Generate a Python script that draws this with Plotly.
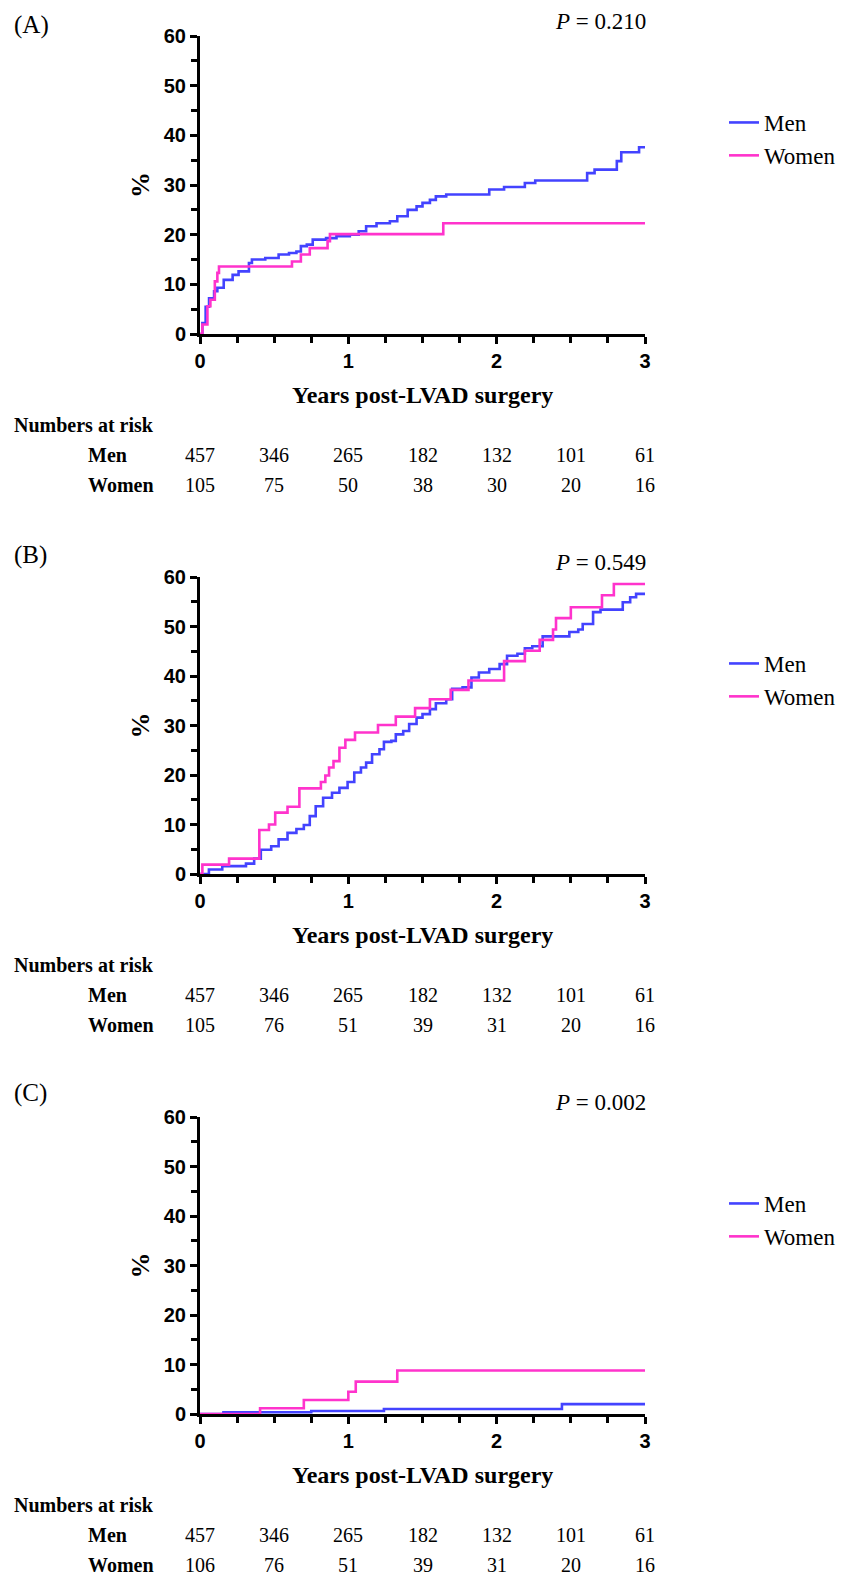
import plotly.graph_objects as go

W, H = 843, 1577

# ---------------- data ----------------
# Panel A
a_men_t = [0, 0.016, 0.038, 0.061, 0.095, 0.117, 0.16, 0.22, 0.26, 0.33, 0.35, 0.44, 0.53, 0.60, 0.65,
           0.68, 0.72, 0.76, 0.85, 0.92, 1.01, 1.07, 1.12, 1.19, 1.28, 1.33, 1.40, 1.46, 1.50, 1.55,
           1.59, 1.66, 1.95, 2.05, 2.19, 2.26, 2.61, 2.66, 2.81, 2.84, 2.96, 3.0]
a_men_v = [0, 2.2, 5.5, 7.2, 8.6, 9.3, 10.9, 11.9, 12.6, 14.3, 15.0, 15.3, 16.0, 16.3, 16.6,
           17.7, 18.0, 19.0, 19.3, 19.7, 20.0, 20.7, 21.7, 22.3, 22.7, 23.7, 25.0, 25.7, 26.4, 27.0,
           27.7, 28.1, 29.1, 29.6, 30.4, 30.9, 32.4, 33.1, 34.8, 36.6, 37.6, 37.6]
a_women_t = [0, 0.016, 0.05, 0.07, 0.10, 0.117, 0.128, 0.62, 0.68, 0.74, 0.86, 0.876, 1.64, 3.0]
a_women_v = [0, 1.9, 5.6, 6.9, 10.6, 12.3, 13.6, 14.6, 16.0, 17.3, 18.7, 20.1, 22.3, 22.3]

# Panel B
b_men_t = [0, 0.06, 0.15, 0.31, 0.365, 0.41, 0.48, 0.53, 0.59, 0.65, 0.70, 0.74, 0.78, 0.83, 0.89,
           0.94, 0.995, 1.04, 1.085, 1.12, 1.16, 1.21, 1.24, 1.29, 1.32, 1.37, 1.41, 1.46, 1.50,
           1.55, 1.59, 1.66, 1.70, 1.77, 1.83, 1.88, 1.95, 2.02, 2.07, 2.14, 2.19, 2.24, 2.31,
           2.49, 2.55, 2.58, 2.65, 2.70, 2.85, 2.90, 2.94, 3.0]
b_men_v = [0, 0.9, 1.6, 2.1, 3.1, 4.9, 5.6, 7.0, 8.3, 9.1, 9.9, 11.7, 13.7, 15.4, 16.4,
           17.4, 18.6, 20.5, 21.5, 22.5, 24.2, 25.2, 26.7, 26.9, 28.2, 28.9, 30.3, 31.6, 32.3,
           33.3, 34.5, 35.3, 37.4, 37.7, 39.7, 40.7, 41.4, 42.4, 44.1, 44.5, 45.6, 46.0, 48.0,
           48.9, 49.4, 50.5, 52.9, 53.4, 54.9, 55.9, 56.6, 56.8]
b_women_t = [0, 0.016, 0.196, 0.40, 0.465, 0.507, 0.59, 0.67, 0.815, 0.845, 0.87, 0.90, 0.94, 0.98,
             1.045, 1.20, 1.32, 1.45, 1.55, 1.69, 1.81, 2.05, 2.19, 2.29, 2.38, 2.40, 2.50, 2.71,
             2.79, 3.0]
b_women_v = [0, 1.9, 3.1, 8.9, 10.0, 12.4, 13.6, 17.3, 18.6, 19.9, 21.5, 22.8, 25.5, 27.1,
             28.6, 30.1, 31.8, 33.5, 35.3, 37.2, 39.1, 43.0, 45.1, 47.3, 49.4, 51.7, 53.9, 56.3,
             58.6, 58.6]

# Panel C
c_men_t = [0, 0.158, 0.75, 1.24, 2.44, 3.0]
c_men_v = [0, 0.34, 0.6, 1.0, 2.0, 2.0]
c_women_t = [0, 0.405, 0.70, 1.00, 1.05, 1.33, 3.0]
c_women_v = [0, 1.15, 2.84, 4.5, 6.55, 8.78, 8.78]

risk_times = [0, 0.5, 1, 1.5, 2, 2.5, 3]
a_risk_men = [457, 346, 265, 182, 132, 101, 61]
a_risk_women = [105, 75, 50, 38, 30, 20, 16]
b_risk_men = [457, 346, 265, 182, 132, 101, 61]
b_risk_women = [105, 76, 51, 39, 31, 20, 16]
c_risk_men = [457, 346, 265, 182, 132, 101, 61]
c_risk_women = [106, 76, 51, 39, 31, 20, 16]

panel_labels = ["(A)", "(B)", "(C)"]
p_values = ["0.210", "0.549", "0.002"]
series_names = ["Men", "Women"]
x_ticks = [0, 1, 2, 3]
y_ticks = [0, 10, 20, 30, 40, 50, 60]

# ---------------- styling ----------------
BLUE = "#4343FF"
PINK = "#FF33CC"
SERIF = "Liberation Serif"
SANS = "Liberation Sans"

# pixel layout of the three panels (top, bottom of plot area)
panel_px = [(36, 334), (577, 874), (1117, 1414)]
label_px = [25, 555, 1093]
X_LEFT, X_RIGHT = 200, 645


def py(p):
    return 1 - p / H


panels = [
    (a_men_t, a_men_v, a_women_t, a_women_v, a_risk_men, a_risk_women),
    (b_men_t, b_men_v, b_women_t, b_women_v, b_risk_men, b_risk_women),
    (c_men_t, c_men_v, c_women_t, c_women_v, c_risk_men, c_risk_women),
]

fig = go.Figure()
annotations = []
layout_extra = {}

for i, (mt, mv, wt, wv, rm, rw) in enumerate(panels):
    n = "" if i == 0 else str(i + 1)
    xa, ya = "x" + n, "y" + n
    leg = "legend" + n
    top, bot = panel_px[i]

    fig.add_trace(go.Scatter(x=mt, y=mv, mode="lines", line=dict(color=BLUE, width=2.6, shape="hv"),
                             name=series_names[0], xaxis=xa, yaxis=ya, legend=leg))
    fig.add_trace(go.Scatter(x=wt, y=wv, mode="lines", line=dict(color=PINK, width=2.6, shape="hv"),
                             name=series_names[1], xaxis=xa, yaxis=ya, legend=leg))

    layout_extra["xaxis" + n] = dict(
        domain=[X_LEFT / W, X_RIGHT / W], anchor=ya, range=[0, 3],
        tickmode="array", tickvals=x_ticks, ticks="outside", ticklen=7, tickwidth=2.5, tickcolor="black",
        showline=True, linewidth=3, linecolor="black", showgrid=False, zeroline=False,
        tickfont=dict(family=SANS, size=20, color="black", weight="bold"),
        minor=dict(dtick=0.25, tick0=0, ticks="outside", ticklen=6, tickwidth=2.5, tickcolor="black"),
        automargin=False, fixedrange=True,
    )
    layout_extra["yaxis" + n] = dict(
        domain=[py(bot), py(top)], anchor=xa, range=[0, 60],
        tickmode="array", tickvals=y_ticks, ticks="outside", ticklen=7, tickwidth=2.5, tickcolor="black",
        showline=True, linewidth=3, linecolor="black", showgrid=False, zeroline=False,
        tickfont=dict(family=SANS, size=20, color="black", weight="bold"),
        minor=dict(dtick=5, tick0=0, ticks="outside", ticklen=6, tickwidth=2.5, tickcolor="black"),
        automargin=False, fixedrange=True,
    )
    layout_extra[leg] = dict(
        x=724 / W, y=py(top + 65), xanchor="left", yanchor="top",
        font=dict(family=SERIF, size=23, color="black"), bgcolor="rgba(0,0,0,0)",
        tracegroupgap=0, itemwidth=30,
    )

    # panel label
    annotations.append(dict(text=panel_labels[i], xref="paper", yref="paper", x=12 / W, y=py(label_px[i]),
                            xanchor="left", yanchor="middle", showarrow=False,
                            font=dict(family=SERIF, size=25, color="black")))
    # P value
    annotations.append(dict(text="<i>P</i> = " + p_values[i], xref="paper", yref="paper", x=648 / W,
                            y=py(top - 15), xanchor="right", yanchor="middle", showarrow=False,
                            font=dict(family=SERIF, size=23, color="black")))
    # y title
    annotations.append(dict(text="%", xref="paper", yref="paper", x=140 / W, y=py((top + bot) / 2),
                            xanchor="center", yanchor="middle", textangle=-90, showarrow=False,
                            font=dict(family=SERIF, size=26, color="black", weight="bold")))
    # x title
    annotations.append(dict(text="Years post-LVAD surgery", xref="paper", yref="paper",
                            x=(X_LEFT + X_RIGHT) / 2 / W, y=py(bot + 61), xanchor="center", yanchor="middle",
                            showarrow=False, font=dict(family=SERIF, size=24, color="black", weight="bold")))
    # numbers at risk
    annotations.append(dict(text="Numbers at risk", xref="paper", yref="paper", x=12 / W, y=py(bot + 91),
                            xanchor="left", yanchor="middle", showarrow=False,
                            font=dict(family=SERIF, size=20, color="black", weight="bold")))
    for name, row, dy in ((series_names[0], rm, 121), (series_names[1], rw, 151)):
        annotations.append(dict(text=name, xref="paper", yref="paper", x=86 / W, y=py(bot + dy),
                                xanchor="left", yanchor="middle", showarrow=False,
                                font=dict(family=SERIF, size=20, color="black", weight="bold")))
        for t, v in zip(risk_times, row):
            annotations.append(dict(text=str(v), xref=xa, yref="paper", x=t, y=py(bot + dy),
                                    xanchor="center", yanchor="middle", showarrow=False,
                                    font=dict(family=SERIF, size=20, color="black")))

fig.update_layout(
    width=W, height=H,
    margin=dict(l=0, r=0, t=0, b=0),
    paper_bgcolor="white", plot_bgcolor="white",
    annotations=annotations,
    **layout_extra,
)

# remove the browser's default page margin so the figure fills the window exactly
fig.write_html(
    "out.html",
    config={"displayModeBar": False},
    post_script="document.body.style.margin='0';document.body.style.overflow='hidden';",
)
